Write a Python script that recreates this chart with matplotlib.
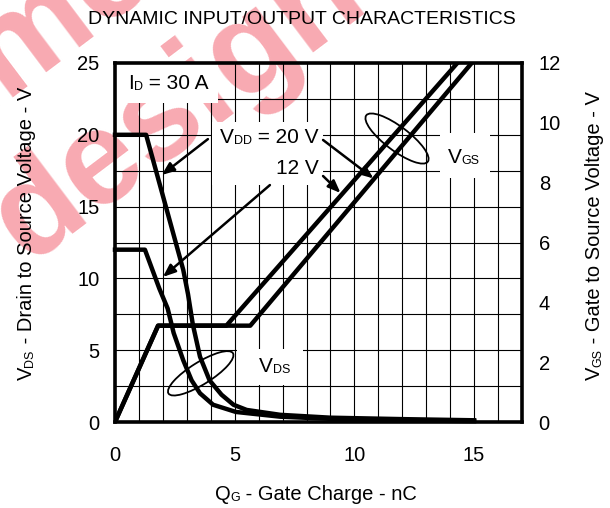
import matplotlib
matplotlib.use('Agg')
import matplotlib.pyplot as plt
from matplotlib.patches import Ellipse, Rectangle
from matplotlib.transforms import ScaledTranslation

plt.rcParams['font.family'] = ['Liberation Sans', 'DejaVu Sans']

# V_DS curves, left axis (V)
qg_vds_20 = [0, 1.3, 2.85, 3.05, 3.25, 3.55, 3.95, 4.45, 4.95, 5.5, 6.9, 9.0, 12.0, 15.0]
vds_20 = [20, 20, 10.6, 8.9, 6.8, 4.55, 2.9, 1.9, 1.2, 0.84, 0.5, 0.3, 0.2, 0.12]
qg_vds_12 = [0, 1.25, 1.85, 2.2, 2.45, 2.85, 3.2, 3.55, 4.1, 5.05, 6.9, 9.0, 12.0, 15.0]
vds_12 = [12, 12, 9.3, 7.9, 6.2, 4.3, 2.9, 2.0, 1.2, 0.7, 0.37, 0.22, 0.12, 0.06]

# V_GS curves, right axis (V)
qg_vgs_12 = [0, 1.8, 4.65, 14.3]
vgs_12 = [0, 3.22, 3.22, 12]
qg_vgs_20 = [0, 1.8, 5.65, 14.9]
vgs_20 = [0, 3.22, 3.22, 12]

x_ticks = [0, 5, 10, 15]
y_left_ticks = [0, 5, 10, 15, 20, 25]
y_right_ticks = [0, 2, 4, 6, 8, 10, 12]

FS = 14.5     # ticks, axis labels
NOTE = 15     # labels inside the plot
SUB = 9

fig = plt.figure(figsize=(6.1, 5.08), dpi=100)
fig.patch.set_facecolor('white')

# watermark behind everything
wm = dict(color='#f8aab2', fontsize=96, fontweight='bold', rotation=37,
          rotation_mode='anchor', ha='left', va='baseline', zorder=-5)
fig.text(28 / 610, 1 - 264 / 508, 'design', **wm)
fig.text(-60 / 610, 1 - 146 / 508, 'umec', **wm)

ax = fig.add_axes([115 / 610, 86 / 508, 407 / 610, 359 / 508])
ax.patch.set_alpha(0)
ax2 = ax.twinx()

ax.set_xlim(0, 17)
ax.set_ylim(0, 25)
ax2.set_ylim(0, 12)

ax.set_xticks(x_ticks)
ax.set_xticks(range(0, 18), minor=True)
ax.set_yticks(y_left_ticks)
ax.set_yticks([v / 2 for v in range(0, 51, 5)], minor=True)
ax2.set_yticks(y_right_ticks)
ax.set_axisbelow(True)
ax.grid(which='both', color='black', lw=0.8)

ax.tick_params(which='both', length=0, labelsize=FS)
ax.tick_params(axis='y', pad=11)
ax.tick_params(axis='x', pad=17)
ax2.tick_params(length=0, labelsize=FS, pad=12)

for s in ax.spines.values():
    s.set_linewidth(2.6)
for s in ax2.spines.values():
    s.set_visible(False)

lw = 3.2
ax.plot(qg_vds_20, vds_20, color='black', lw=lw, solid_joinstyle='round', clip_on=False)
ax.plot(qg_vds_12, vds_12, color='black', lw=lw, solid_joinstyle='round', clip_on=False)
ax2.plot(qg_vgs_12, vgs_12, color='black', lw=lw, solid_joinstyle='round')
ax2.plot(qg_vgs_20, vgs_20, color='black', lw=lw, solid_joinstyle='round')


def blank(x0, x1, y0, y1):
    ax.add_patch(Rectangle((x0, y0), x1 - x0, y1 - y0, fc='white', ec='none', zorder=1))


blank(0.05, 4.3, 22.2, 24.9)
blank(4.05, 8.7, 16.5, 20.9)
blank(13.58, 15.66, 17.0, 20.1)
blank(5.1, 7.85, 2.55, 5.05)


def rich(x, y, parts, transform, rotation=0):
    prev = ax.text(x, y, parts[0][0], fontsize=parts[0][1], transform=transform,
                   rotation=rotation, rotation_mode='anchor', ha='left', va='baseline',
                   zorder=4, clip_on=False)
    corner = (1, 0) if rotation == 0 else (1, 1)
    for s, size in parts[1:]:
        prev = ax.annotate(s, xy=corner, xycoords=prev, fontsize=size,
                           rotation=rotation, rotation_mode='anchor',
                           ha='left', va='bottom', annotation_clip=False, zorder=4)
    return prev


rich(0.54, 23.19, [('I', NOTE), ('D', SUB), (' = 30 A', NOTE)], ax.transData)
rich(4.39, 19.43, [('V', NOTE), ('DD', SUB), (' = 20 V', NOTE)], ax.transData)
ax.text(8.5, 17.27, '12 V', fontsize=NOTE, ha='right', va='baseline', zorder=4)
rich(13.9, 18.04, [('V', NOTE), ('GS', SUB)], ax.transData)
rich(6.0, 3.5, [('V', NOTE), ('DS', SUB)], ax.transData)

# arrows
ap = dict(arrowstyle='-|>,head_length=0.75,head_width=0.3', lw=1.8, color='black',
          shrinkA=0, shrinkB=0, mutation_scale=10)
ax.annotate('', xy=(1.95, 17.2), xytext=(3.88, 19.7), arrowprops=ap, zorder=5)
ax.annotate('', xy=(10.8, 16.96), xytext=(8.69, 19.64), arrowprops=ap, zorder=5)
ax.annotate('', xy=(9.42, 15.95), xytext=(8.69, 17.13), arrowprops=ap, zorder=5)
ax.annotate('', xy=(2.0, 10.1), xytext=(6.47, 16.5), arrowprops=ap, zorder=5)

# ellipses grouping the curve families
for cx, cy, w, h, ang in [(11.78, 19.74, 0.77, 0.24, -37), (3.58, 3.39, 0.76, 0.22, 32)]:
    tr = fig.dpi_scale_trans + ScaledTranslation(cx, cy, ax.transData)
    ax.add_patch(Ellipse((0, 0), w, h, angle=ang, fill=False, ec='black', lw=1.3,
                         transform=tr, zorder=5))

fig.text(302 / 610, 1 - 20 / 508, 'DYNAMIC INPUT/OUTPUT CHARACTERISTICS', fontsize=14,
         ha='center', va='center')
rich(215 / 610, 1 - 500 / 508, [('Q', FS), ('G', SUB), (' - Gate Charge - nC', FS)],
     fig.transFigure)
rich(32 / 610, 1 - 380 / 508, [('V', FS), ('DS', SUB), (' - Drain to Source Voltage - V', FS)],
     fig.transFigure, rotation=90)
rich(600 / 610, 1 - 380 / 508, [('V', FS), ('GS', SUB), (' - Gate to Source Voltage - V', FS)],
     fig.transFigure, rotation=90)

fig.savefig('out.png', dpi=100, facecolor='white')
